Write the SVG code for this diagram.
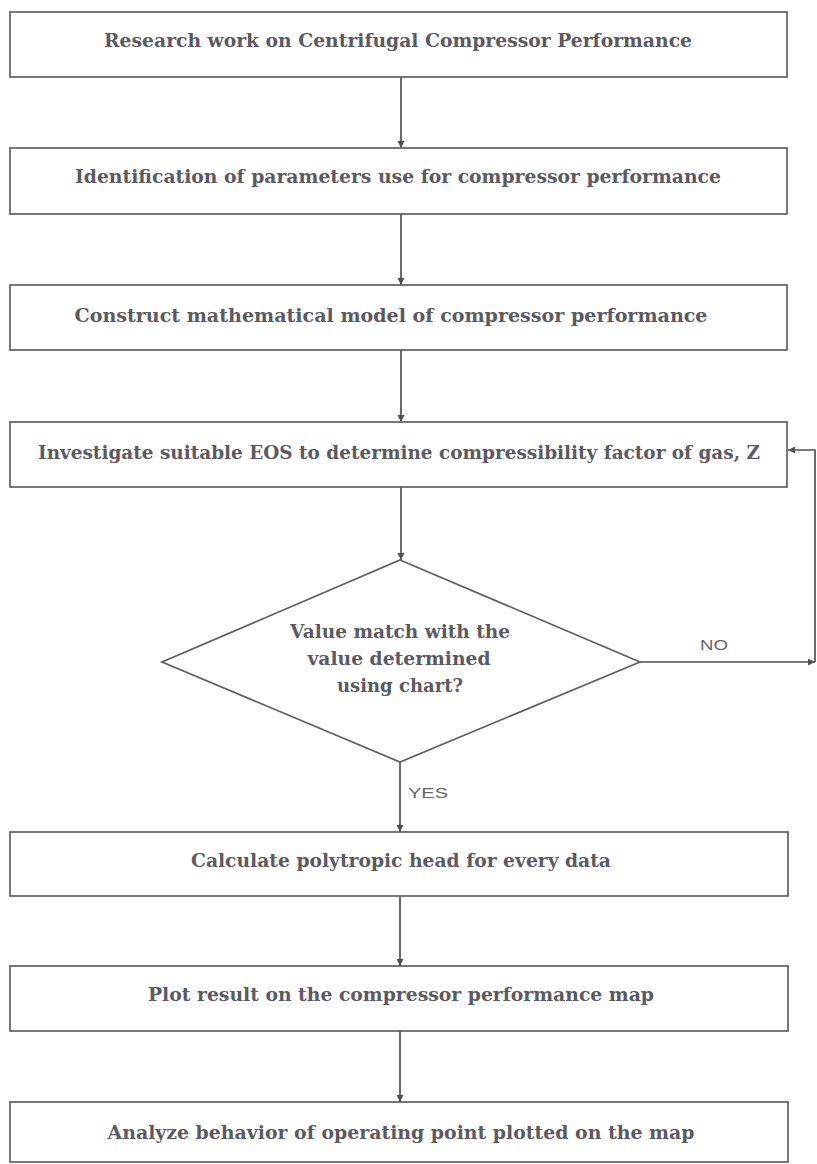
<svg xmlns="http://www.w3.org/2000/svg" width="817" height="1164" viewBox="0 0 817 1164">
<defs>
<marker id="ah" viewBox="0 0 10 10" refX="10" refY="5" markerWidth="7" markerHeight="7" markerUnits="userSpaceOnUse" orient="auto">
<path d="M0,0 L10,5 L0,10 z" fill="#505050"/>
</marker>
<style>
.box{fill:#fff;stroke:#606060;stroke-width:1.7}
.t{font-family:"DejaVu Serif","Liberation Serif",serif;font-size:19px;font-weight:bold;fill:#5a5a60;text-anchor:middle}
.d{font-family:"DejaVu Serif","Liberation Serif",serif;font-size:18px;font-weight:bold;fill:#5a5a60;text-anchor:middle}
.lbl{font-family:"Liberation Sans",Arial,sans-serif;font-size:14px;fill:#666}
.c{stroke:#505050;stroke-width:1.7;fill:none}
</style>
</defs>
<rect width="817" height="1164" fill="#fff"/>
<g id="connectors">
<line class="c" x1="401" y1="77" x2="401" y2="148" marker-end="url(#ah)"/>
<line class="c" x1="401" y1="214" x2="401" y2="285" marker-end="url(#ah)"/>
<line class="c" x1="401" y1="350" x2="401" y2="422" marker-end="url(#ah)"/>
<line class="c" x1="401" y1="487" x2="401" y2="560" marker-end="url(#ah)"/>
<line class="c" x1="400" y1="762" x2="400" y2="832" marker-end="url(#ah)"/>
<line class="c" x1="400" y1="896" x2="400" y2="966" marker-end="url(#ah)"/>
<line class="c" x1="400" y1="1031" x2="400" y2="1102" marker-end="url(#ah)"/>
<line class="c" x1="640" y1="662" x2="815" y2="662" marker-end="url(#ah)"/>
<polyline class="c" points="815,662 815,450 788,450" marker-end="url(#ah)"/>
<text class="lbl" x="714" y="650" text-anchor="middle" textLength="28" lengthAdjust="spacingAndGlyphs">NO</text>
<text class="lbl" x="408" y="798" textLength="40" lengthAdjust="spacingAndGlyphs">YES</text>
</g>
<g id="n1">
<rect class="box" x="10" y="12" width="777" height="65"/>
<text class="t" x="398" y="47" textLength="588" lengthAdjust="spacingAndGlyphs">Research work on Centrifugal Compressor Performance</text>
</g>
<g id="n2">
<rect class="box" x="10" y="148" width="777" height="66"/>
<text class="t" x="398" y="183" textLength="646" lengthAdjust="spacingAndGlyphs">Identification of parameters use for compressor performance</text>
</g>
<g id="n3">
<rect class="box" x="10" y="285" width="777" height="65"/>
<text class="t" x="391" y="322" textLength="633" lengthAdjust="spacingAndGlyphs">Construct mathematical model of compressor performance</text>
</g>
<g id="n4">
<rect class="box" x="10" y="422" width="777" height="65"/>
<text class="t" x="399" y="459" textLength="722" lengthAdjust="spacingAndGlyphs">Investigate suitable EOS to determine compressibility factor of gas, Z</text>
</g>
<g id="n5">
<polygon class="box" points="400,560 640,662 400,762 162,662"/>
<text class="d" x="400" y="638" textLength="220" lengthAdjust="spacingAndGlyphs">Value match with the</text>
<text class="d" x="399" y="665" textLength="183" lengthAdjust="spacingAndGlyphs">value determined</text>
<text class="d" x="400" y="692" textLength="126" lengthAdjust="spacingAndGlyphs">using chart?</text>
</g>
<g id="n6">
<rect class="box" x="10" y="832" width="778" height="64"/>
<text class="t" x="401" y="867" textLength="420" lengthAdjust="spacingAndGlyphs">Calculate polytropic head for every data</text>
</g>
<g id="n7">
<rect class="box" x="10" y="966" width="778" height="65"/>
<text class="t" x="401" y="1001" textLength="506" lengthAdjust="spacingAndGlyphs">Plot result on the compressor performance map</text>
</g>
<g id="n8">
<rect class="box" x="10" y="1102" width="778" height="60"/>
<text class="t" x="401" y="1139" textLength="587" lengthAdjust="spacingAndGlyphs">Analyze behavior of operating point plotted on the map</text>
</g>
</svg>
